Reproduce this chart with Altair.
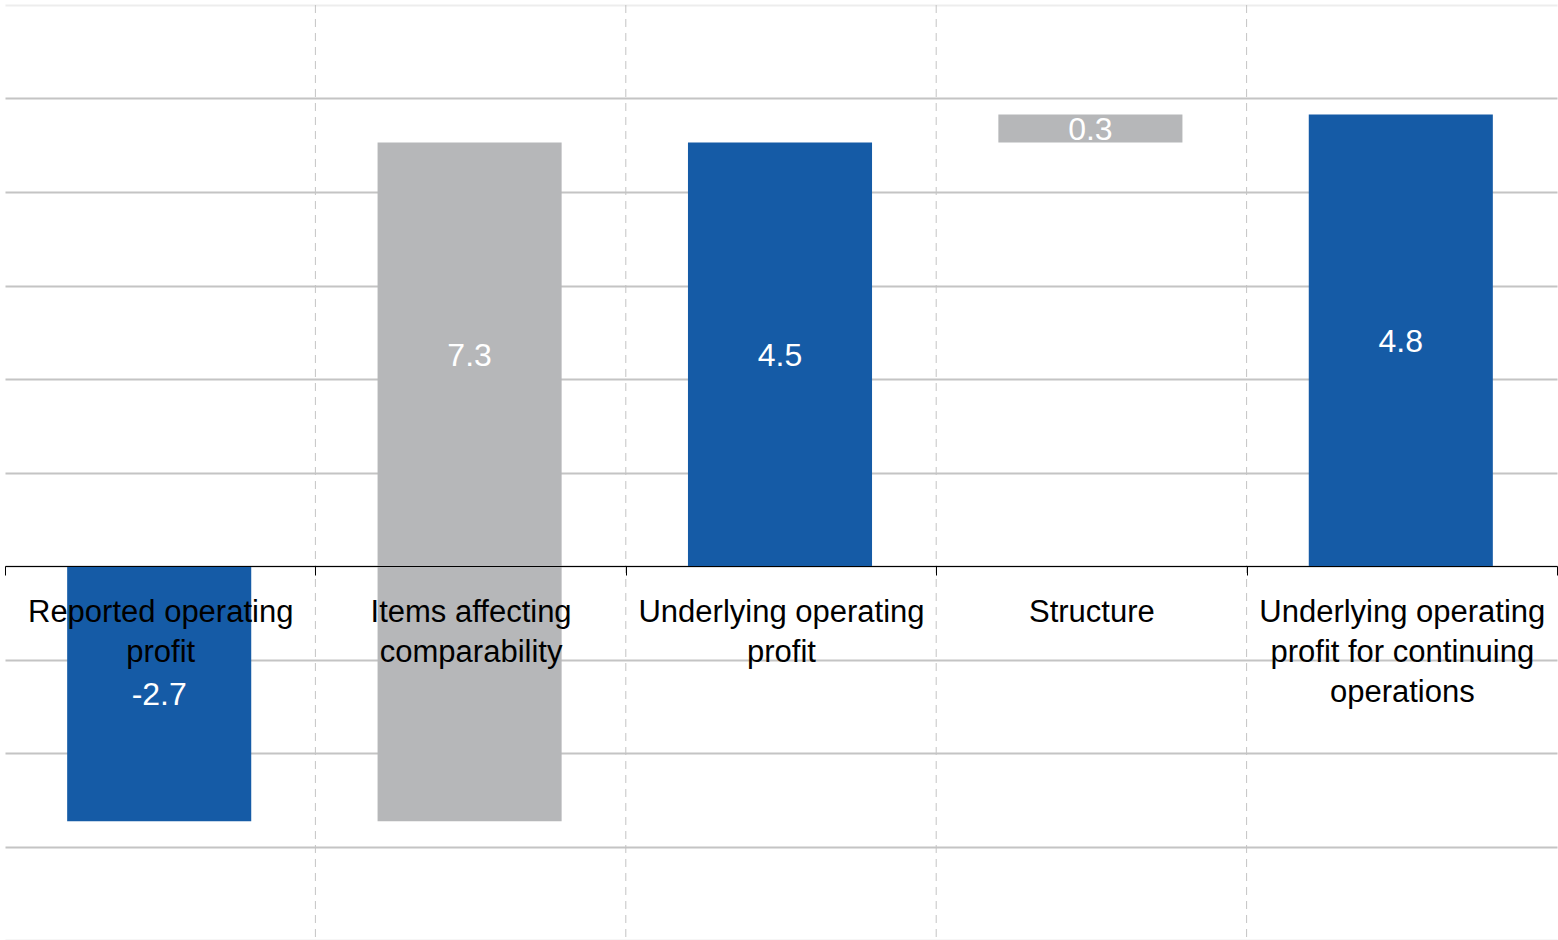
import altair as alt
import pandas as pd

# ---- data ----
categories = [
    "Reported operating\nprofit",
    "Items affecting\ncomparability",
    "Underlying operating\nprofit",
    "Structure",
    "Underlying operating\nprofit for continuing\noperations",
]
values = [-2.73, 7.26, 4.53, 0.30, 4.83]
kinds = ["total", "change", "total", "change", "total"]

Y_MIN, Y_MAX = -4, 6
W, H = 1552, 935

rows = []
running = 0.0
for i, (c, v, k) in enumerate(zip(categories, values, kinds)):
    if k == "total":
        start, end = 0.0, v
    else:
        start, end = running, running + v
    running = end
    lo, hi = min(start, end), max(start, end)
    mid = hi / 2 if lo < 0 < hi else (lo + hi) / 2
    rows.append(dict(cat=c, start=start, end=end, mid=mid, value=v,
                     label=f"{v:.1f}", kind=k, idx=i))
df = pd.DataFrame(rows)

FONT = "Liberation Sans"

x_scale = alt.Scale(domain=categories, paddingInner=0, paddingOuter=0)
x_axis = alt.Axis(
    title=None, orient="bottom",
    offset=-(H * (0 - Y_MIN) / (Y_MAX - Y_MIN)),
    domainColor="black", domainWidth=1,
    tickColor="black", tickSize=9, tickWidth=1, tickBand="extent",
    labelAngle=0, labelFont=FONT, labelFontSize=31, labelColor="black",
    labelLineHeight=40, labelBaseline="top", labelPadding=22, labelLimit=600,
    labelExpr="split(datum.label, '\\n')",
    grid=False, zindex=1,
)
y_scale = alt.Scale(domain=[Y_MIN, Y_MAX], nice=False, zero=False)
y_axis = alt.Axis(
    title=None, labels=False, ticks=False, domain=False,
    values=list(range(Y_MIN, Y_MAX + 1)),
    gridColor="#C4C4C4", gridWidth=2,
    gridOpacity={"condition": {"test": f"datum.value == {Y_MAX} || datum.value == {Y_MIN}", "value": 0.3}, "value": 1},
)

base = alt.Chart(df)

vgrid = base.transform_filter("datum.idx > 0").mark_rule(
    strokeDash=[8, 6], color="#C4C4C4", strokeWidth=1
).encode(
    x=alt.X("cat:N", scale=x_scale, axis=x_axis, bandPosition=0),
    y=alt.value(0), y2=alt.value(H),
)

bars = base.mark_bar(width=alt.RelativeBandSize(0.593), xOffset=-1).encode(
    x=alt.X("cat:N", scale=x_scale, axis=x_axis),
    y=alt.Y("start:Q", scale=y_scale, axis=y_axis),
    y2=alt.Y2("end:Q"),
    color=alt.Color("kind:N", scale=alt.Scale(domain=["total", "change"], range=["#155BA6", "#B6B7B9"]), legend=None),
)

labels = base.mark_text(color="white", font=FONT, fontSize=32, baseline="middle",
                        align="center", dy=1.5, dx=-1).encode(
    x=alt.X("cat:N", scale=x_scale, axis=x_axis),
    y=alt.Y("mid:Q", scale=y_scale, axis=y_axis),
    text=alt.Text("label:N"),
)

chart = alt.layer(vgrid, bars, labels).properties(
    width=W, height=H,
    autosize=alt.AutoSizeParams(type="none"),
    padding={"left": 5, "top": 5, "right": 1, "bottom": 0},
    background="white",
).configure_view(stroke=None)

chart.save("out.html", embed_options={"renderer": "svg", "actions": False})
